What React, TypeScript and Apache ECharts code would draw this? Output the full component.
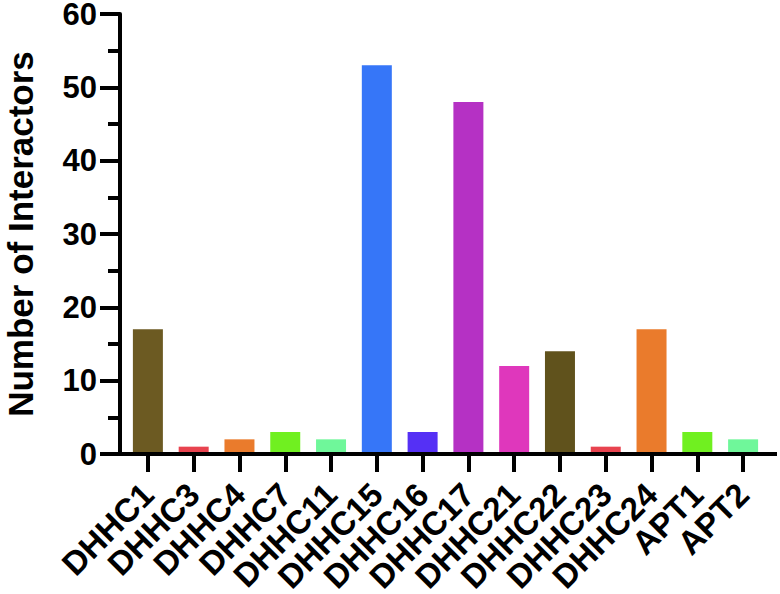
import React, { useEffect, useRef } from "react";
import * as echarts from "echarts";

const categories = ["DHHC1", "DHHC3", "DHHC4", "DHHC7", "DHHC11", "DHHC15", "DHHC16", "DHHC17", "DHHC21", "DHHC22", "DHHC23", "DHHC24", "APT1", "APT2"];
const values = [17, 1, 2, 3, 2, 53, 3, 48, 12, 14, 1, 17, 3, 2];
const colors = ["#6c5a22", "#e8434f", "#ea7b2c", "#70f020", "#6ff79a", "#3676f8", "#5530f5", "#b531c4", "#df37bc", "#60521c", "#e8434f", "#ea7b2c", "#70f020", "#6ff79a"];
const yTicks = [0, 10, 20, 30, 40, 50, 60];

const FONT = "'Liberation Sans', Arial, Helvetica, sans-serif";

export default function App() {
  const ref = useRef<HTMLDivElement>(null);
  useEffect(() => {
    if (!ref.current) return;
    const chart = echarts.init(ref.current, null, { renderer: "svg" });
    chart.setOption({
      animation: false,
      backgroundColor: "#ffffff",
      grid: { left: 125, right: 14, top: 14, bottom: 140, containLabel: false, outerBoundsMode: "none" },
      graphic: [
        {
          type: "line",
          shape: { x1: 100, y1: 454, x2: 777, y2: 454 },
          style: { stroke: "#000", lineWidth: 4 },
          z: 10,
        },
      ],
      xAxis: {
        type: "category",
        data: categories,
        axisLine: { show: true, lineStyle: { color: "#000", width: 4 } },
        axisTick: { show: true, alignWithLabel: true, length: 18, lineStyle: { color: "#000", width: 4 } },
        axisLabel: {
          interval: 0,
          rotate: 45,
          margin: 35,
          color: "#000",
          fontFamily: FONT,
          fontWeight: "bold",
          fontSize: 33,
        },
      },
      yAxis: {
        type: "value",
        min: 0,
        max: 60,
        interval: 10,
        offset: 5,
        name: "Number of Interactors",
        nameLocation: "middle",
        nameGap: 85,
        nameTextStyle: { color: "#000", fontFamily: FONT, fontWeight: "bold", fontSize: 35, lineHeight: 30 },
        axisLine: { show: true, lineStyle: { color: "#000", width: 4 } },
        axisTick: { show: true, length: 20, lineStyle: { color: "#000", width: 4 } },
        minorTick: { show: true, splitNumber: 2, length: 12, lineStyle: { color: "#000", width: 4 } },
        splitLine: { show: false },
        axisLabel: {
          margin: 23,
          color: "#000",
          fontFamily: FONT,
          fontWeight: "bold",
          fontSize: 31,
          lineHeight: 24,
          padding: [4, 0, 0, 0],
          formatter: (v: number) => (yTicks.includes(v) ? String(v) : ""),
        },
      },
      series: [
        {
          type: "bar",
          barWidth: 30,
          data: values.map((v, i) => ({ value: v, itemStyle: { color: colors[i] } })),
        },
      ],
    });
    return () => chart.dispose();
  }, []);
  return <div ref={ref} style={{ position: "absolute", left: 0, top: 0, width: 780, height: 594 }} />;
}
